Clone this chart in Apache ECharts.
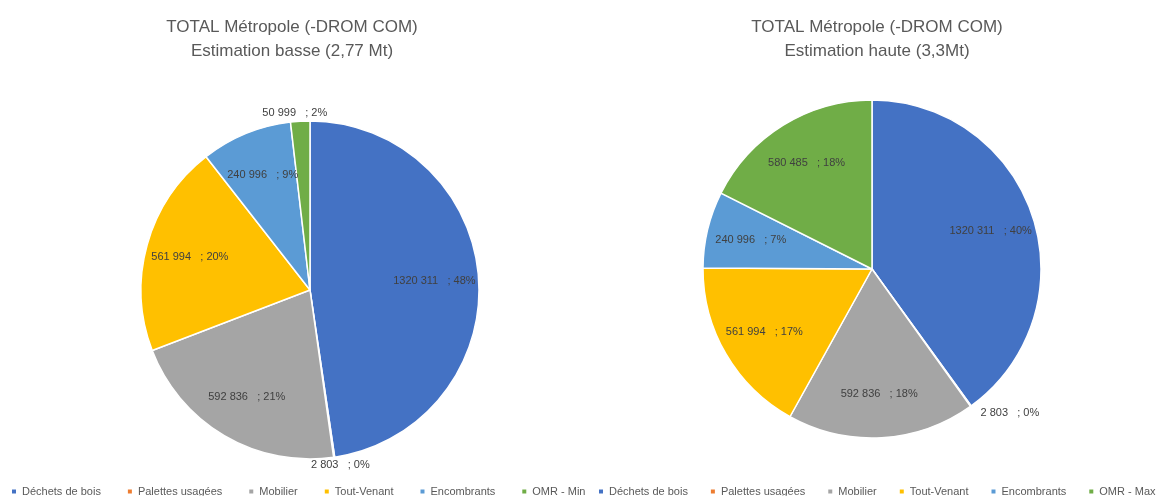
<!DOCTYPE html>
<html>
<head>
<meta charset="utf-8">
<script src="https://cdn.jsdelivr.net/npm/echarts@6/dist/echarts.min.js"></script>
<style>
  html, body { margin: 0; padding: 0; background: #fff; }
  #chart { width: 1157px; height: 496px; }
</style>
</head>
<body>
<div id="chart"></div>
<script>
const categoriesLow = ['Déchets de bois', 'Palettes usagées', 'Mobilier', 'Tout-Venant', 'Encombrants', 'OMR - Min'];
const categoriesHigh = ['Déchets de bois', 'Palettes usagées', 'Mobilier', 'Tout-Venant', 'Encombrants', 'OMR - Max'];
const valuesLow = [1320311, 2803, 592836, 561994, 240996, 50999];
const valuesHigh = [1320311, 2803, 592836, 561994, 240996, 580485];
const colors = ['#4472C4', '#ED7D31', '#A5A5A5', '#FFC000', '#5B9BD5', '#70AD47'];
// small slices get their label outside the pie
const outsideLow = ['Palettes usagées', 'OMR - Min'];
const outsideHigh = ['Palettes usagées'];

const FONT = 'Liberation Sans';
const R = 169;

// Excel style "1320 311"
function fmtNum(v) {
  const s = String(v);
  return s.length > 3 ? s.slice(0, -3) + ' ' + s.slice(-3) : s;
}

function toData(names, values) {
  return names.map((n, i) => ({ name: n, value: values[i], itemStyle: { color: colors[i] } }));
}

function labelData(names, values, outside) {
  return names.map((n, i) => ({
    name: n,
    value: values[i],
    label: outside.includes(n) ? { position: 'outside' } : { position: 'inside' }
  }));
}

function sectorSeries(names, values, center) {
  return {
    type: 'pie',
    center: center,
    radius: R,
    startAngle: 90,
    clockwise: true,
    label: { show: false },
    labelLine: { show: false },
    itemStyle: { borderColor: '#fff', borderWidth: 1.5 },
    emphasis: { disabled: true },
    data: toData(names, values)
  };
}

// transparent ring, only there to put the labels at ~3/4 of the radius
function labelSeries(names, values, outside, center, centerOutside) {
  return {
    type: 'pie',
    center: center,
    radius: [R * 0.44, R],
    startAngle: 90,
    clockwise: true,
    silent: true,
    percentPrecision: 0,
    avoidLabelOverlap: false,
    itemStyle: { color: 'transparent', borderWidth: 0 },
    emphasis: { disabled: true },
    label: {
      show: true,
      color: '#404040',
      fontFamily: FONT,
      fontSize: 11,
      formatter: p => fmtNum(p.value) + '   ; ' + p.percent + '%'
    },
    labelLine: { show: false, length: 8, length2: 0 },
    labelLayout: p => (centerOutside && outside.includes(categoriesLow[p.dataIndex])) ? { align: 'center' } : {},
    data: labelData(names, values, outside)
  };
}

const chart = echarts.init(document.getElementById('chart'));
chart.setOption({
  animation: false,
  textStyle: { fontFamily: FONT },
  title: [
    {
      text: 'TOTAL Métropole (-DROM COM)\nEstimation basse (2,77 Mt)',
      left: 287, top: 10, textAlign: 'center',
      textStyle: { fontFamily: FONT, fontSize: 17, fontWeight: 'normal', color: '#595959', lineHeight: 24 }
    },
    {
      text: 'TOTAL Métropole (-DROM COM)\nEstimation haute (3,3Mt)',
      left: 872, top: 10, textAlign: 'center',
      textStyle: { fontFamily: FONT, fontSize: 17, fontWeight: 'normal', color: '#595959', lineHeight: 24 }
    }
  ],
  legend: [
    {
      data: categoriesLow,
      left: 10, top: 486, padding: 0,
      itemWidth: 6, itemHeight: 6, itemGap: 25, icon: 'rect',
      textStyle: { fontFamily: FONT, fontSize: 11, color: '#595959' }
    },
    {
      data: categoriesHigh,
      left: 597, top: 486, padding: 0,
      itemWidth: 6, itemHeight: 6, itemGap: 21, icon: 'rect',
      textStyle: { fontFamily: FONT, fontSize: 11, color: '#595959' }
    }
  ],
  series: [
    sectorSeries(categoriesLow, valuesLow, [310, 290]),
    sectorSeries(categoriesHigh, valuesHigh, [872, 269]),
    labelSeries(categoriesLow, valuesLow, outsideLow, [310, 290], true),
    labelSeries(categoriesHigh, valuesHigh, outsideHigh, [872, 269], false)
  ]
});
</script>
</body>
</html>
